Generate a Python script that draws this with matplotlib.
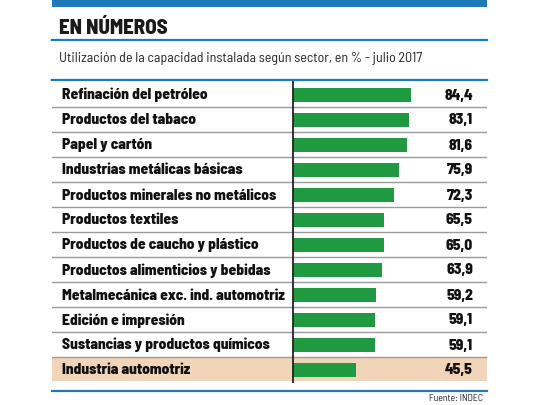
import matplotlib
matplotlib.use("Agg")
import matplotlib.pyplot as plt
from matplotlib.lines import Line2D
from matplotlib.patches import Rectangle

categories = [
    "Refinación del petróleo",
    "Productos del tabaco",
    "Papel y cartón",
    "Industrias metálicas básicas",
    "Productos minerales no metálicos",
    "Productos textiles",
    "Productos de caucho y plástico",
    "Productos alimenticios y bebidas",
    "Metalmecánica exc. ind. automotriz",
    "Edición e impresión",
    "Sustancias y productos químicos",
    "Industria automotriz",
]
values = [84.4, 83.1, 81.6, 75.9, 72.3, 65.5, 65.0, 63.9, 59.2, 59.1, 59.1, 45.5]
value_labels = ["84,4", "83,1", "81,6", "75,9", "72,3", "65,5", "65,0", "63,9", "59,2", "59,1", "59,1", "45,5"]
title = "EN NÚMEROS"
subtitle = "Utilización de la capacidad instalada según sector, en % - julio 2017"
source = "Fuente: INDEC"

plt.rcParams["font.family"] = ["Barlow Semi Condensed", "Roboto Condensed", "DejaVu Sans"]

W, H = 540, 405
fig = plt.figure(figsize=(W / 100, H / 100), dpi=100)
fig.patch.set_facecolor("white")

def fx(px):
    return px / W

def fy(py):
    return 1 - py / H

BLUE = "#1c79bd"
GREEN = "#1f9a40"
TAN = "#f2d4b8"
SEP = "#9a9a9a"

L, R = 52, 487
TOP, BOT = 80, 383
zero_px = 293
scale = 1.395  # px per unit

ax = fig.add_axes([fx(L), fy(BOT), fx(R - L), (BOT - TOP) / H])
ax.set_xlim(-(zero_px - L) / scale, (R - zero_px) / scale)
ax.set_ylim(11.54, -0.58)
ax.axis("off")

n = len(categories)
ax.axhspan(n - 1 - 0.46, n - 1 + 0.46, color=TAN, zorder=0, lw=0)
for k in range(n - 1):
    ax.axhline(k + 0.5, color=SEP, lw=1.0, zorder=1)

ax.barh(range(n), values, height=0.56, color=GREEN, zorder=2)
ax.axvline(0, color="#222222", lw=1.3, zorder=3)

tr = ax.get_yaxis_transform()
for i, (c, v) in enumerate(zip(categories, value_labels)):
    ax.text(0.022, i + 0.2, c, transform=tr, ha="left", va="baseline",
            fontsize=11.1, fontweight=800, color="#111111")
    ax.text((473 - L) / (R - L), i + 0.2, v, transform=tr, ha="right", va="baseline",
            fontsize=11.1, fontweight=800, color="#111111")

fig.add_artist(Rectangle((fx(L), fy(7)), fx(R - L), 7 / H, transform=fig.transFigure,
                         color=BLUE, lw=0))
for py in (40, 80, 390.5):
    fig.add_artist(Line2D([fx(L), fx(R)], [fy(py), fy(py)], transform=fig.transFigure,
                          color=BLUE, lw=1.6))

fig.text(fx(59), fy(34), title, ha="left", va="baseline", fontsize=15,
         fontweight=800, color="#1a1a1a")
fig.text(fx(59), fy(62), subtitle, ha="left", va="baseline", fontsize=10.1,
         color="#222222")
fig.text(fx(483), fy(401), source, ha="right", va="baseline", fontsize=7,
         color="#222222")

fig.savefig("out.png", dpi=100)
